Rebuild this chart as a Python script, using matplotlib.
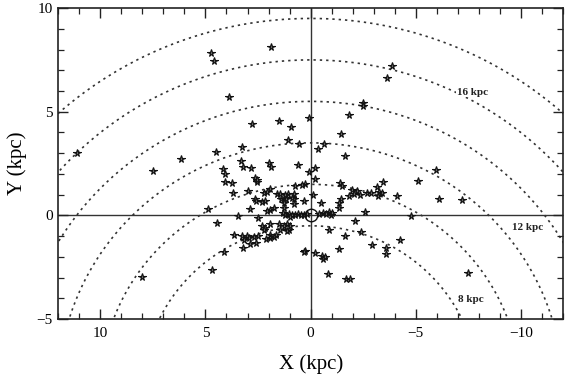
import matplotlib
matplotlib.use('Agg')
import matplotlib.pyplot as plt
from matplotlib.ticker import MultipleLocator
import numpy as np

plt.rcParams['font.family'] = ['Liberation Serif', 'DejaVu Serif']

# star positions (kpc)
star_x = [11.1, 7.49, 6.16, 4.73, 4.57, 1.89, 3.89, -3.86, -3.62, -2.49, -2.49, -1.83,
          0.10, 1.49, 2.79, 0.94, 1.10, 0.57, 3.24, -1.46, -0.35, -0.65, 4.49, 3.33,
          3.22, 2.82, 4.16, 4.05, 2.00, 1.89, 2.63, 2.57, 4.06, 3.75, 3.70, 2.99,
          0.60, -1.62, -5.97, -5.11, -3.43, 0.06, -0.22, -0.19, 0.29, -1.41, -1.50,
          -6.11, -7.17, -1.95, -2.05, -2.20, -2.35, -1.80, -2.68, -2.86, -3.20, -3.27,
          -3.40, -3.15, -4.08, -1.43, -1.33, -1.33, -0.10, 0.33, -0.51, -4.79, -2.60,
          -2.10, -0.86, -1.65, -2.37, -2.92, -3.59, -3.59, -4.25, -1.33, -0.22, 0.25,
          0.30, -0.55, -0.60, -0.68, -0.83, -1.70, -1.89, -7.48, -0.60, -0.75, -0.86,
          -0.95, -1.00, -0.40, 0.30, 0.45, 0.60, 0.75, 0.90, 1.05, 1.20, 1.00, 0.15,
          0.73, 0.40, 2.63, 2.59, 2.24, 2.32, 2.16, 1.92, 2.08, 1.60, 1.44, 1.41,
          1.29, 1.16, 1.08, 1.25, 0.81, 0.81, 2.87, 1.92, 1.76, 2.08, 1.29, 1.32,
          4.86, 3.43, 4.43, 2.48, 2.32, 2.16, 2.24, 1.92, 1.52, 1.48, 1.29, 1.13,
          1.05, 0.97, 1.13, 1.95, 1.92, 2.11, 1.76, 1.63, 3.63, 3.27, 3.03, 3.19,
          2.95, 2.71, 2.48, 2.90, 3.22, 2.59, 4.11, 4.70, 8.03, 2.55, 0.89, 0.81, 1.20]
star_y = [3.03, 2.13, 2.74, 7.83, 7.45, 8.10, 5.73, 7.21, 6.65, 5.41, 5.28, 4.83,
          4.69, 4.56, 4.41, 4.28, 3.64, 3.46, 3.30, 3.91, 3.19, 3.43, 3.06, 2.62,
          2.35, 2.27, 2.26, 2.01, 2.51, 2.33, 1.82, 1.61, 1.61, 1.55, 1.10, 1.17,
          2.43, 2.86, 2.17, 1.66, 1.61, 2.09, 2.27, 1.77, 1.53, 1.58, 1.42,
          0.77, 0.74, 1.25, 1.05, 1.20, 0.98, 0.95, 1.06, 1.10, 0.93, 1.13,
          1.10, 1.35, 0.93, 0.81, 0.58, 0.37, 0.98, 0.69, 0.58, -0.03, 0.18,
          -0.27, -0.68, -1.00, -0.80, -1.43, -1.58, -1.84, -1.19, -1.64, -1.80, -1.72,
          -1.76, -1.95, -2.10, -2.00, -2.82, -3.09, -3.09, -2.77, 0.10, 0.05, 0.15,
          0.02, 0.10, 0.05, 0.02, 0.00, 0.05, 0.02, 0.00, 0.05, 0.02, -0.08, 0.08,
          1.42, 1.45, 0.81, 0.69, 1.06, 0.64, 0.69, 1.26, 1.13, 1.01, 1.01, 0.77,
          0.81, 0.77, 1.05, 0.58, 0.77, 0.53, 0.29, 0.26, 0.37, 0.21, 0.37, 0.13,
          0.29, -0.03, -0.35, -0.14, -0.52, -0.60, -0.68, -0.43, -0.43, -0.68, -0.52, -0.43,
          -0.68, -0.52, -0.76, -0.92, -1.08, -1.16, -1.03, -0.92, -0.92, -0.97, -0.97, -1.19,
          -1.08, -1.03, -0.97, -1.40, -1.59, -1.35, -1.75, -2.64, -2.98, 1.72, 0.85, 1.01, 0.97]

# galactocentric circles (centre at y = -8.5 kpc)
gc_y = -8.5
radii = [8, 10, 12, 14, 16, 18]
ring_labels = ['8 kpc', '12 kpc', '16 kpc']
label_x = [-7.6, -10.3, -7.7]
label_y = [-4.05, -0.6, 5.95]

fig = plt.figure(figsize=(5.7, 3.84), dpi=100)
ax = fig.add_axes([0.102, 0.169, 0.886, 0.81])

t = np.linspace(0, np.pi, 400)
for r in radii:
    ax.plot(r * np.cos(t), gc_y + r * np.sin(t), color='#333333',
            linestyle=(0, (1.4, 2.4)), lw=1.2, zorder=1)

ax.axhline(0, color='#333333', lw=1.0, zorder=1)
ax.axvline(0, color='#333333', lw=1.0, zorder=1)

ax.plot(star_x, star_y, linestyle='none', marker='*', ms=5.5,
        mfc='#6a6a6a', mec='#111111', mew=0.8, zorder=3)

# sun
ax.plot([0], [0], marker='o', ms=9, mfc='none', mec='#111111', mew=1.0, zorder=4)

for lab, lx, ly in zip(ring_labels, label_x, label_y):
    ax.text(lx, ly, lab, fontsize=8, ha='center', va='center', color='#222222',
            fontweight='bold',
            bbox=dict(facecolor='white', edgecolor='none', pad=0.5), zorder=2)

ax.set_xlim(12, -12)
ax.set_ylim(-5, 10)
ax.xaxis.set_major_locator(MultipleLocator(5))
ax.xaxis.set_minor_locator(MultipleLocator(1))
ax.yaxis.set_major_locator(MultipleLocator(5))
ax.yaxis.set_minor_locator(MultipleLocator(1))
ax.tick_params(which='both', direction='in', top=True, right=True, color='#222222')
ax.tick_params(which='major', length=7, width=1.0, labelsize=11)
ax.tick_params(axis='x', which='major', pad=6)
ax.tick_params(axis='y', which='major', pad=4)
ax.tick_params(which='minor', length=4, width=0.9)
for s in ax.spines.values():
    s.set_linewidth(1.2)
    s.set_color('#222222')

ax.set_xlabel('X (kpc)', fontsize=15, labelpad=10)
ax.set_ylabel('Y (kpc)', fontsize=15, labelpad=7)

fig.savefig('out.png', dpi=100)
